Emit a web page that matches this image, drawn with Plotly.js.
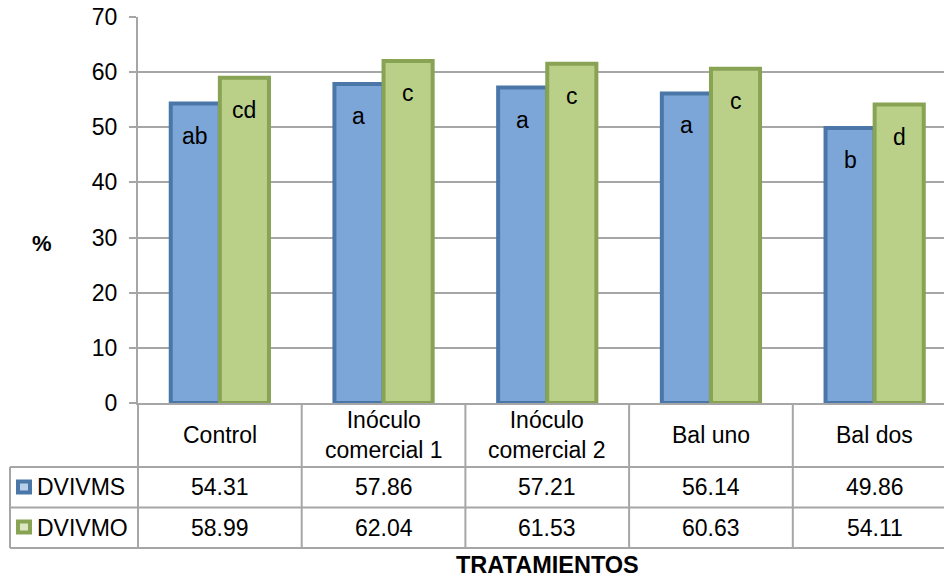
<!DOCTYPE html>
<html>
<head>
<meta charset="utf-8">
<script src="https://cdn.plot.ly/plotly-3.0.1.min.js"></script>
<style>html,body{margin:0;padding:0;background:#fff;}#chart{width:944px;height:580px;}</style>
</head>
<body>
<div id="chart"></div>
<script>
// ---- data ----
const categories = ['Control', 'Inóculo comercial 1', 'Inóculo comercial 2', 'Bal uno', 'Bal dos'];
const categoryLabels = ['Control', 'Inóculo<br>comercial 1', 'Inóculo<br>comercial 2', 'Bal uno', 'Bal dos'];
const seriesNames = ['DVIVMS', 'DVIVMO'];
const dvivms = [54.31, 57.86, 57.21, 56.14, 49.86];
const dvivmo = [58.99, 62.04, 61.53, 60.63, 54.11];
const lettersMS = ['ab', 'a', 'a', 'a', 'b'];
const lettersMO = ['cd', 'c', 'c', 'c', 'd'];
const yTicks = [0, 10, 20, 30, 40, 50, 60, 70];

// ---- geometry helpers (pixels -> paper) ----
const W = 944, H = 580, L = 138, T = 17, B = 177, R = 0;
const pw = W - L - R, ph = H - T - B;
const px = v => (v - L) / pw;
const py = v => (H - B - v) / ph;

const FONT = 'Liberation Sans, Arial, sans-serif';
const FS = 23;
const lineCol = '#a6a6a6';
const blueFill = '#7ca6d8', blueLine = '#4a76a8';
const greenFill = '#bad088', greenLine = '#89a354';

const traces = [
  {type: 'bar', name: seriesNames[0], x: categories, y: dvivms,
   marker: {color: blueFill, line: {color: blueLine, width: 4}}, hoverinfo: 'y'},
  {type: 'bar', name: seriesNames[1], x: categories, y: dvivmo,
   marker: {color: greenFill, line: {color: greenLine, width: 4}}, hoverinfo: 'y'}
];

const annotations = [];
const shapes = [];
const off = 0.15;
const txt = (o) => Object.assign({showarrow: false, xanchor: 'center', yanchor: 'middle',
  font: {family: FONT, size: FS, color: '#000'}}, o);
categories.forEach((c, i) => {
  annotations.push(txt({x: i - off, y: dvivms[i], xref: 'x', yref: 'y', text: lettersMS[i], yshift: -32}));
  annotations.push(txt({x: i + off, y: dvivmo[i], xref: 'x', yref: 'y', text: lettersMO[i], yshift: -32}));
  // header row category label
  annotations.push(txt({x: i, y: py(435), xref: 'x', yref: 'paper', text: categoryLabels[i]}));
  // table values
  annotations.push(txt({x: i, y: py(487.5), xref: 'x', yref: 'paper', text: dvivms[i].toFixed(2)}));
  annotations.push(txt({x: i, y: py(527.5), xref: 'x', yref: 'paper', text: dvivmo[i].toFixed(2)}));
  // vertical table separators
  if (i < categories.length - 1) {
    shapes.push({type: 'line', xref: 'x', yref: 'paper', x0: i + 0.5, x1: i + 0.5, y0: 0, y1: py(548),
      line: {color: lineCol, width: 2}});
  }
});

// legend cells
seriesNames.forEach((s, k) => {
  const cy = k === 0 ? 487.5 : 527.5;
  annotations.push(txt({x: px(35), y: py(cy), xref: 'paper', yref: 'paper', text: s, xanchor: 'left'}));
  const edge = k === 0 ? blueLine : greenLine;
  shapes.push({type: 'rect', xref: 'paper', yref: 'paper', x0: px(16), x1: px(32), y0: py(cy - 8), y1: py(cy + 7),
    fillcolor: edge, line: {width: 0}});
  shapes.push({type: 'rect', xref: 'paper', yref: 'paper', x0: px(20), x1: px(28), y0: py(cy - 4), y1: py(cy + 3),
    fillcolor: k === 0 ? '#b9cfe9' : '#dbe7c2', line: {width: 0}});
});

// table lines
shapes.push({type: 'line', xref: 'paper', yref: 'paper', x0: 0, x1: 0, y0: 0, y1: py(548), line: {color: lineCol, width: 2}});
shapes.push({type: 'line', xref: 'paper', yref: 'paper', x0: px(10), x1: px(10), y0: py(467), y1: py(548), line: {color: lineCol, width: 2}});
[467, 507.5, 548].forEach(yy => {
  shapes.push({type: 'line', xref: 'paper', yref: 'paper', x0: px(10), x1: 1, y0: py(yy), y1: py(yy), line: {color: lineCol, width: 2}});
});

annotations.push(txt({x: px(42), y: py(243), xref: 'paper', yref: 'paper', text: '<b>%</b>',
  font: {family: FONT, size: 22, color: '#000'}}));
annotations.push(txt({x: px(547), y: py(565), xref: 'paper', yref: 'paper', text: '<b>TRATAMIENTOS</b>',
  font: {family: FONT, size: 23.5, color: '#000'}}));

const layout = {
  width: W, height: H,
  margin: {l: L, r: R, t: T, b: B, pad: 0},
  paper_bgcolor: '#fff', plot_bgcolor: '#fff',
  showlegend: false,
  barmode: 'group', bargap: 0.4, bargroupgap: 0,
  xaxis: {type: 'category', range: [-0.5, -0.5 + pw / 163.7], showticklabels: false, ticks: '',
    showgrid: false, zeroline: false, showline: true, linecolor: lineCol, linewidth: 2, fixedrange: true},
  yaxis: {range: [0, 70], tickvals: yTicks, ticktext: yTicks.map(String), ticks: 'outside', ticklen: 7,
    tickcolor: lineCol, tickwidth: 2, showline: true, linecolor: lineCol, linewidth: 2,
    showgrid: true, gridcolor: lineCol, gridwidth: 2, zeroline: false,
    tickfont: {family: FONT, size: FS, color: '#000'}, ticklabelstandoff: 7, fixedrange: true},
  annotations: annotations,
  shapes: shapes
};

Plotly.newPlot('chart', traces, layout, {displayModeBar: false, staticPlot: true});
</script>
</body>
</html>
